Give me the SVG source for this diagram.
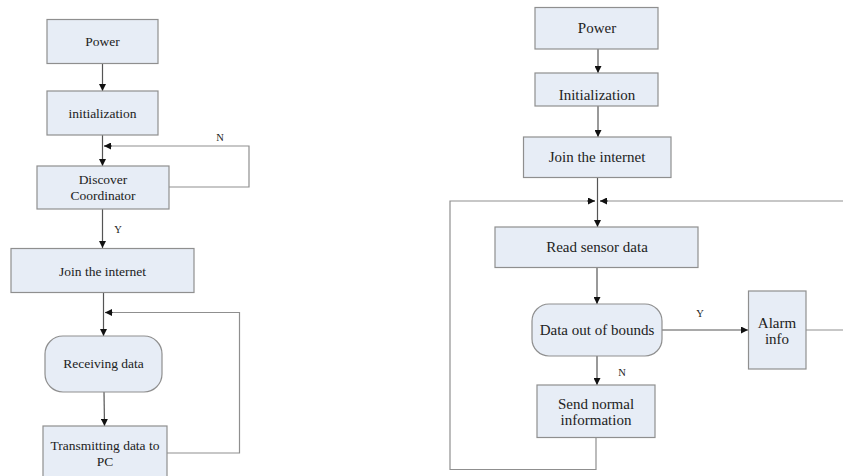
<svg xmlns="http://www.w3.org/2000/svg" width="843" height="476" viewBox="0 0 843 476">
<defs>
<marker id="ah" viewBox="0 0 10 10" refX="10" refY="5" markerWidth="7" markerHeight="7" markerUnits="userSpaceOnUse" orient="auto">
<path d="M0,0 L10,5 L0,10 z" fill="#111"/>
</marker>
<style>
.box{fill:#e7edf6;stroke:#8f8f8f;stroke-width:1.2}
text{font-family:'Liberation Serif','DejaVu Serif','Times New Roman',serif;fill:#222;text-anchor:middle}
.t{font-size:13.5px}
.r{font-size:15px}
.lb{font-size:10.5px}
.c{fill:none;stroke:#8f8f8f;stroke-width:1.2}
.a{fill:none;stroke:#555;stroke-width:1.2;marker-end:url(#ah)}
</style>
</defs>
<rect width="843" height="476" fill="#fff"/>

<g id="connectors">
<line class="a" x1="102.5" y1="63" x2="102.5" y2="91"/>
<line class="a" x1="102.5" y1="135" x2="102.5" y2="166"/>
<polyline class="c" points="169,187 249,187 249,146 104,146"/>
<line class="a" x1="112" y1="146" x2="104" y2="146"/>
<line class="a" x1="102.5" y1="209" x2="102.5" y2="248"/>
<line class="a" x1="103.5" y1="293" x2="103.5" y2="336"/>
<polyline class="c" points="167,453 239.5,453 239.5,312.5 105,312.5"/>
<line class="a" x1="113" y1="312.5" x2="105" y2="312.5"/>
<line class="a" x1="104" y1="392" x2="104.5" y2="426"/>

<line class="a" x1="598" y1="49" x2="598" y2="73"/>
<line class="a" x1="598" y1="106" x2="598" y2="137"/>
<line class="a" x1="597.5" y1="177" x2="597.5" y2="227"/>
<polyline class="c" points="596,437 596,469.5 450,469.5 450,201 595,201"/>
<line class="a" x1="587" y1="201" x2="595" y2="201"/>
<line class="c" x1="843" y1="201" x2="600" y2="201"/>
<line class="a" x1="608" y1="201" x2="600" y2="201"/>
<line class="a" x1="597" y1="267" x2="597" y2="304"/>
<line class="a" x1="662" y1="330" x2="748" y2="330"/>
<line class="c" x1="806" y1="330" x2="843" y2="330"/>
<line class="a" x1="597" y1="356" x2="597" y2="385"/>
</g>

<g id="labels">
<text class="lb" x="220" y="140.5">N</text>
<text class="lb" x="118" y="232.5">Y</text>
<text class="lb" x="700" y="316.5">Y</text>
<text class="lb" x="622" y="375.5">N</text>
</g>

<g id="l-power"><rect class="box" x="47" y="19.5" width="111" height="44"/><text class="t" x="102.5" y="46">Power</text></g>
<g id="l-init"><rect class="box" x="47" y="91" width="111" height="44"/><text class="t" x="102.5" y="117.5">initialization</text></g>
<g id="l-discover"><rect class="box" x="37" y="166" width="132" height="43"/><text class="t" x="103" y="183.5">Discover</text><text class="t" x="103" y="199.5">Coordinator</text></g>
<g id="l-join"><rect class="box" x="11" y="248.5" width="183" height="44"/><text class="t" x="102.5" y="275.5">Join the internet</text></g>
<g id="l-receive"><rect class="box" x="45" y="336" width="117" height="56" rx="18"/><text class="t" x="103.5" y="367.5">Receiving data</text></g>
<g id="l-transmit"><rect class="box" x="43" y="426" width="124" height="56"/><text class="t" x="105" y="449.5">Transmitting data to</text><text class="t" x="105" y="465.5">PC</text></g>

<g id="r-power"><rect class="box" x="535" y="7.5" width="123" height="41.5"/><text class="r" x="597" y="33">Power</text></g>
<g id="r-init"><rect class="box" x="535" y="73" width="123" height="33"/><text class="r" x="597" y="100">Initialization</text></g>
<g id="r-join"><rect class="box" x="523.5" y="137" width="147.5" height="40.5"/><text class="r" x="597" y="162">Join the internet</text></g>
<g id="r-read"><rect class="box" x="495" y="227" width="203" height="40.5"/><text class="r" x="597" y="252">Read sensor data</text></g>
<g id="r-bounds"><rect class="box" x="532" y="304" width="130" height="52" rx="17"/><text class="r" x="597" y="335">Data out of bounds</text></g>
<g id="r-alarm"><rect class="box" x="748.5" y="291" width="57.5" height="78"/><text class="r" x="777" y="328">Alarm</text><text class="r" x="777" y="343.5">info</text></g>
<g id="r-send"><rect class="box" x="537" y="385" width="118" height="52.5"/><text class="r" x="596" y="408.5">Send normal</text><text class="r" x="596" y="424.5">information</text></g>
</svg>
